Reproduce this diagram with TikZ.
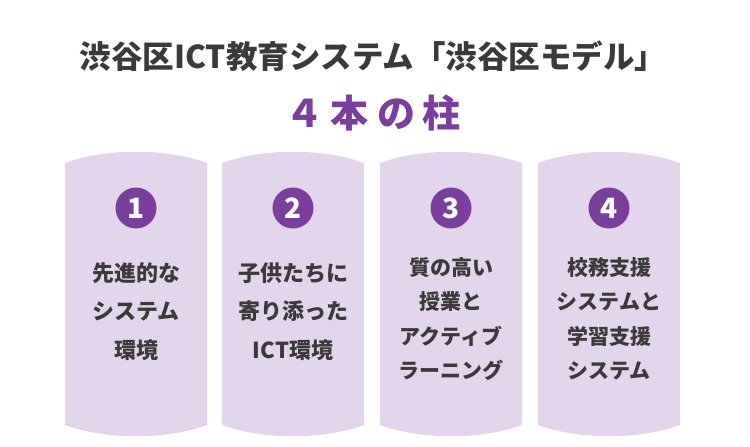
\documentclass[tikz,border=0pt]{standalone}
\usepackage{fontspec}
\setmainfont{Noto Sans CJK JP}
\usetikzlibrary{positioning}
\definecolor{pillarfill}{HTML}{E3D5EC}
\definecolor{badge}{HTML}{7A3F9C}
\definecolor{ink}{HTML}{3A3A3A}
\begin{document}
\begin{tikzpicture}[x=1pt,y=-1pt,
    pillar/.style={fill=pillarfill,draw=none},
    numbadge/.style={circle,fill=badge,minimum size=41pt,inner sep=0pt,text=white,font=\fontsize{28}{28}\selectfont\bfseries},
    pillartext/.style={align=center,text=ink,font=\fontsize{22}{38.5}\selectfont\bfseries}]

    % Canvas
    \useasboundingbox (0,0) rectangle (750,447);

    % Titles
    \node[text=ink,font=\fontsize{31.5}{31.5}\selectfont\bfseries] (title) at (373,56) {渋谷区ICT教育システム「渋谷区モデル」};
    \node[text=badge,font=\fontsize{38}{38}\selectfont\bfseries] (subtitle) at (373,113) {４\hspace{8pt}本\hspace{8pt}の\hspace{8pt}柱};

    % Pillars
    \foreach \n/\cx in {1/136,2/293,3/451,4/609}{
        \fill[pillar] (\cx-71,163) .. controls (\cx-30,148) and (\cx+30,148) .. (\cx+71,163)
            -- (\cx+71,425) .. controls (\cx+30,440) and (\cx-30,440) .. (\cx-71,425) -- cycle;
        \node[numbadge] (badge\n) at (\cx,208) {\n};
    }

    % Pillar texts
    \node[pillartext,below=30pt of badge1] (text1) {先進的な\\システム\\環境};
    \node[pillartext,below=30pt of badge2] (text2) {子供たちに\\寄り添った\\ICT環境};
    \node[pillartext,font=\fontsize{21}{34.5}\selectfont\bfseries,below=25pt of badge3] (text3) {質の高い\\授業と\\アクティブ\\ラーニング};
    \node[pillartext,font=\fontsize{21}{34.5}\selectfont\bfseries,below=25pt of badge4] (text4) {校務支援\\システムと\\学習支援\\システム};

\end{tikzpicture}
\end{document}
